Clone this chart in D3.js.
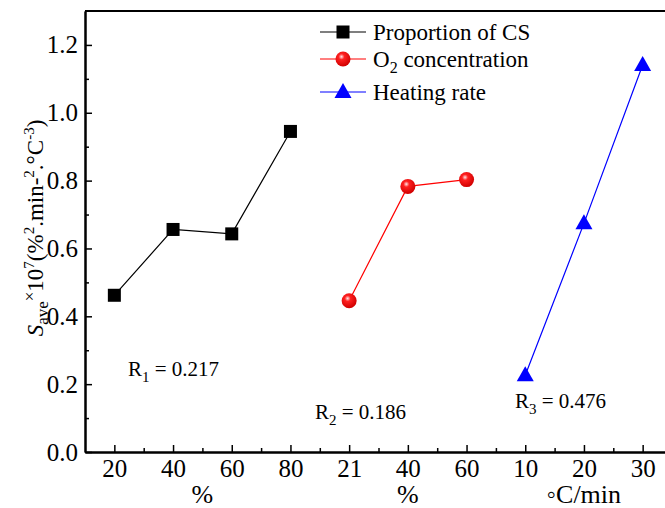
<!DOCTYPE html>
<html>
<head>
<meta charset="utf-8">
<script src="https://cdn.jsdelivr.net/npm/d3@7"></script>
<style>
  body { margin: 0; background: #fff; }
  svg { display: block; font-family: "Liberation Serif", "Times New Roman", serif; }
</style>
</head>
<body>
<div id="chart"></div>
<script>
// categories along the shared x axis (three groups)
const categories = ["20", "40", "60", "80", "21", "40", "60", "10", "20", "30"];
const csValues = [0.462, 0.656, 0.643, 0.945];   // Proportion of CS
const o2Values = [0.446, 0.783, 0.803];          // O2 concentration
const hrValues = [0.226, 0.674, 1.141];          // Heating rate
const yTicks = [0, 0.2, 0.4, 0.6, 0.8, 1.0, 1.2];
const groupTitles = ["%", "%", "\u25E6C/min"];
const rLabels = [["1", "0.217"], ["2", "0.186"], ["3", "0.476"]];

const width = 665, height = 508;
const svg = d3.select("#chart").append("svg")
  .attr("width", width)
  .attr("height", height);

const x = d3.scaleLinear().domain([-0.5, 9.5]).range([85, 672]);
const y = d3.scaleLinear().domain([0, 1.3]).range([452, 11]);

// axes
const xAxis = d3.axisBottom(x)
  .tickValues(d3.range(categories.length))
  .tickFormat(i => categories[i])
  .tickSizeInner(-7).tickSizeOuter(0).tickPadding(7);
const xMinor = d3.axisBottom(x)
  .tickValues(d3.range(categories.length - 1).map(i => i + 0.5))
  .tickFormat("")
  .tickSizeInner(-4).tickSizeOuter(0);
const yAxis = d3.axisLeft(y)
  .tickValues(yTicks)
  .tickFormat(d3.format(".1f"))
  .tickSizeInner(-7).tickSizeOuter(0).tickPadding(7);
const yMinor = d3.axisLeft(y)
  .tickValues(d3.range(1, 13, 2).map(v => v / 10))
  .tickFormat("")
  .tickSizeInner(-4).tickSizeOuter(0);

svg.append("g").attr("transform", `translate(0,${y(0)})`).call(xAxis);
svg.append("g").attr("transform", `translate(0,${y(0)})`).call(xMinor);
svg.append("g").attr("transform", `translate(${x(-0.5)},0)`).call(yAxis);
svg.append("g").attr("transform", `translate(${x(-0.5)},0)`).call(yMinor);

svg.selectAll(".domain").attr("stroke", "#000").attr("stroke-width", 2);
svg.selectAll(".tick line").attr("stroke", "#000").attr("stroke-width", 1.5);
svg.selectAll(".tick text")
  .attr("font-family", "'Liberation Serif', serif")
  .attr("font-size", 25)
  .attr("fill", "#000");

// top frame line
svg.append("line")
  .attr("x1", x(-0.5)).attr("x2", x(9.5))
  .attr("y1", y(1.3)).attr("y2", y(1.3))
  .attr("stroke", "#000").attr("stroke-width", 2);

// group titles under the axis
[1.5, 5, 8].forEach((c, i) => {
  svg.append("text")
    .attr("x", x(c)).attr("y", 503)
    .attr("text-anchor", "middle")
    .attr("font-size", 26)
    .text(groupTitles[i]);
});

// y axis title
const yt = svg.append("text")
  .attr("transform", `translate(43,228) rotate(-90)`)
  .attr("text-anchor", "middle")
  .attr("font-size", 23);
yt.append("tspan").attr("font-style", "italic").text("S");
yt.append("tspan").attr("font-size", 17).attr("dy", 5).text("ave");
yt.append("tspan").attr("font-size", 17).attr("dy", -13).text("\u00D7");
yt.append("tspan").attr("dy", 8).text("10");
yt.append("tspan").attr("font-size", 15).attr("dy", -9).text("7");
yt.append("tspan").attr("dy", 9).text("(%");
yt.append("tspan").attr("font-size", 15).attr("dy", -9).text("2");
yt.append("tspan").attr("dy", 9).text(".min-");
yt.append("tspan").attr("font-size", 15).attr("dy", -9).text("2");
yt.append("tspan").attr("dy", 9).text(".\u00B0C");
yt.append("tspan").attr("font-size", 15).attr("dy", -9).text("-3");
yt.append("tspan").attr("dy", 9).text(")");

// red ball gradient
const defs = svg.append("defs");
const grad = defs.append("radialGradient").attr("id", "ball")
  .attr("cx", "40%").attr("cy", "35%").attr("r", "65%");
grad.append("stop").attr("offset", "0%").attr("stop-color", "#ffe6e6");
grad.append("stop").attr("offset", "30%").attr("stop-color", "#ff2020");
grad.append("stop").attr("offset", "100%").attr("stop-color", "#d00000");

const line = d3.line().x(d => x(d.i)).y(d => y(d.v));

const series = [
  { values: csValues, start: 0, color: "#000", marker: "square" },
  { values: o2Values, start: 4, color: "#ff0000", marker: "ball" },
  { values: hrValues, start: 7, color: "#0000ff", marker: "triangle" }
];

function drawMarker(g, type, cx, cy) {
  if (type === "square") {
    g.append("rect").attr("x", cx - 6.5).attr("y", cy - 6.5)
      .attr("width", 13).attr("height", 13).attr("fill", "#000");
  } else if (type === "ball") {
    g.append("circle").attr("cx", cx).attr("cy", cy).attr("r", 7.5)
      .attr("fill", "url(#ball)");
  } else {
    g.append("path")
      .attr("d", `M${cx},${cy - 9}L${cx + 8.5},${cy + 6}L${cx - 8.5},${cy + 6}Z`)
      .attr("fill", "#0000ff");
  }
}

series.forEach(s => {
  const pts = s.values.map((v, k) => ({ i: s.start + k, v }));
  svg.append("path").datum(pts)
    .attr("d", line)
    .attr("fill", "none")
    .attr("stroke", s.color)
    .attr("stroke-width", 1.2);
  const g = svg.append("g");
  pts.forEach(p => drawMarker(g, s.marker, x(p.i), y(p.v)));
});

// legend
const legendNames = [["Proportion of CS"], ["O", "2", " concentration"], ["Heating rate"]];
const legendY = [32, 59, 92];
series.forEach((s, i) => {
  const g = svg.append("g");
  g.append("line").attr("x1", 320).attr("x2", 366)
    .attr("y1", legendY[i]).attr("y2", legendY[i])
    .attr("stroke", s.color).attr("stroke-width", 1.2);
  drawMarker(g, s.marker, 343, legendY[i]);
  const t = g.append("text").attr("x", 373).attr("y", legendY[i] + 8)
    .attr("font-size", 23);
  const parts = legendNames[i];
  if (parts.length === 1) {
    t.text(parts[0]);
  } else {
    t.append("tspan").text(parts[0]);
    t.append("tspan").attr("font-size", 16).attr("dy", 6).text(parts[1]);
    t.append("tspan").attr("dy", -6).text(parts[2]);
  }
});

// R values
const rPos = [[128, 376], [315, 419], [515, 408]];
rLabels.forEach((r, i) => {
  const t = svg.append("text")
    .attr("x", rPos[i][0]).attr("y", rPos[i][1])
    .attr("font-size", 21);
  t.append("tspan").text("R");
  t.append("tspan").attr("font-size", 15).attr("dy", 6).text(r[0]);
  t.append("tspan").attr("dy", -6).text(" = " + r[1]);
});
</script>
</body>
</html>
